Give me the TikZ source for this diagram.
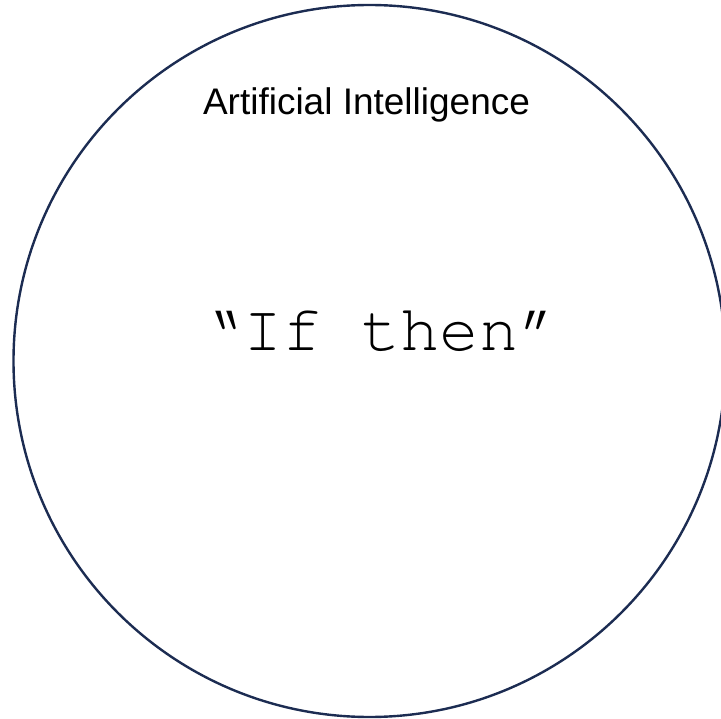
\documentclass[tikz,border=0pt]{standalone}
\usepackage{fontspec}
\setmainfont{Liberation Sans}
\setmonofont{TeX Gyre Cursor}
\usepackage{tikz}
\usetikzlibrary{shapes,positioning}
\definecolor{navyline}{RGB}{28,44,82}

\begin{document}
\begin{tikzpicture}[
x=1pt, y=-1pt,
field/.style={draw=navyline, line width=2.4pt, circle, minimum size=712pt, inner sep=0pt},
title/.style={anchor=base, font=\fontsize{37}{40}\selectfont},
rule/.style={anchor=base, font=\ttfamily\fontsize{65.5}{70}\selectfont}
]
\useasboundingbox (0,0) rectangle (721,719);
\node[field] (ai) at (369.5,361) {};
\node[title] (ailabel) at (366.5,115) {Artificial Intelligence};
\node[rule] (ifthen) at (381,351) {“If then”};
\end{tikzpicture}
\end{document}
